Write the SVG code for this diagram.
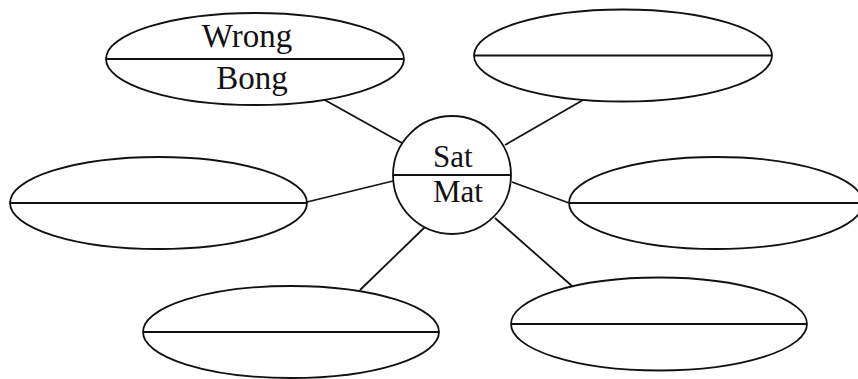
<svg xmlns="http://www.w3.org/2000/svg" width="858" height="379" viewBox="0 0 858 379">
<style>
.sh{fill:#fff;stroke:#111;stroke-width:1.8}
.dv{stroke:#111;stroke-width:1.8}
.cn{stroke:#111;stroke-width:1.8;fill:none}
.t{font-family:"Liberation Serif","Times New Roman",serif;fill:#111}
</style>
<rect width="858" height="379" fill="#fff"/>
<g id="connectors">
<line class="cn" x1="323" y1="99" x2="402" y2="143"/>
<line class="cn" x1="583" y1="100" x2="505" y2="145"/>
<line class="cn" x1="307" y1="202" x2="393" y2="181"/>
<line class="cn" x1="512" y1="182" x2="569" y2="203"/>
<line class="cn" x1="360" y1="290" x2="425" y2="227"/>
<line class="cn" x1="495" y1="218" x2="572" y2="286"/>
</g>
<g id="node-top-left">
<ellipse class="sh" cx="255" cy="59" rx="149" ry="46"/>
<line class="dv" x1="106" y1="59" x2="404" y2="59"/>
<text class="t" x="247" y="47" font-size="33" text-anchor="middle">Wrong</text>
<text class="t" x="252" y="89" font-size="33" text-anchor="middle">Bong</text>
</g>
<g id="node-top-right">
<ellipse class="sh" cx="623" cy="55.5" rx="149" ry="46"/>
<line class="dv" x1="474" y1="55.5" x2="772" y2="55.5"/>
</g>
<g id="node-mid-left">
<ellipse class="sh" cx="158.5" cy="203" rx="148.5" ry="46"/>
<line class="dv" x1="10" y1="203" x2="307" y2="203"/>
</g>
<g id="node-mid-right">
<ellipse class="sh" cx="716" cy="203" rx="147" ry="46"/>
<line class="dv" x1="569" y1="203" x2="858" y2="203"/>
</g>
<g id="node-bottom-left">
<ellipse class="sh" cx="291" cy="332" rx="148" ry="46"/>
<line class="dv" x1="143" y1="332" x2="439" y2="332"/>
</g>
<g id="node-bottom-right">
<ellipse class="sh" cx="659" cy="324" rx="148" ry="46.5"/>
<line class="dv" x1="511" y1="324" x2="807" y2="324"/>
</g>
<g id="node-center">
<circle class="sh" cx="452" cy="175" r="59"/>
<line class="dv" x1="393" y1="175" x2="511" y2="175"/>
<text class="t" x="433" y="167" font-size="31">Sat</text>
<text class="t" x="433" y="202" font-size="31">Mat</text>
</g>
</svg>
